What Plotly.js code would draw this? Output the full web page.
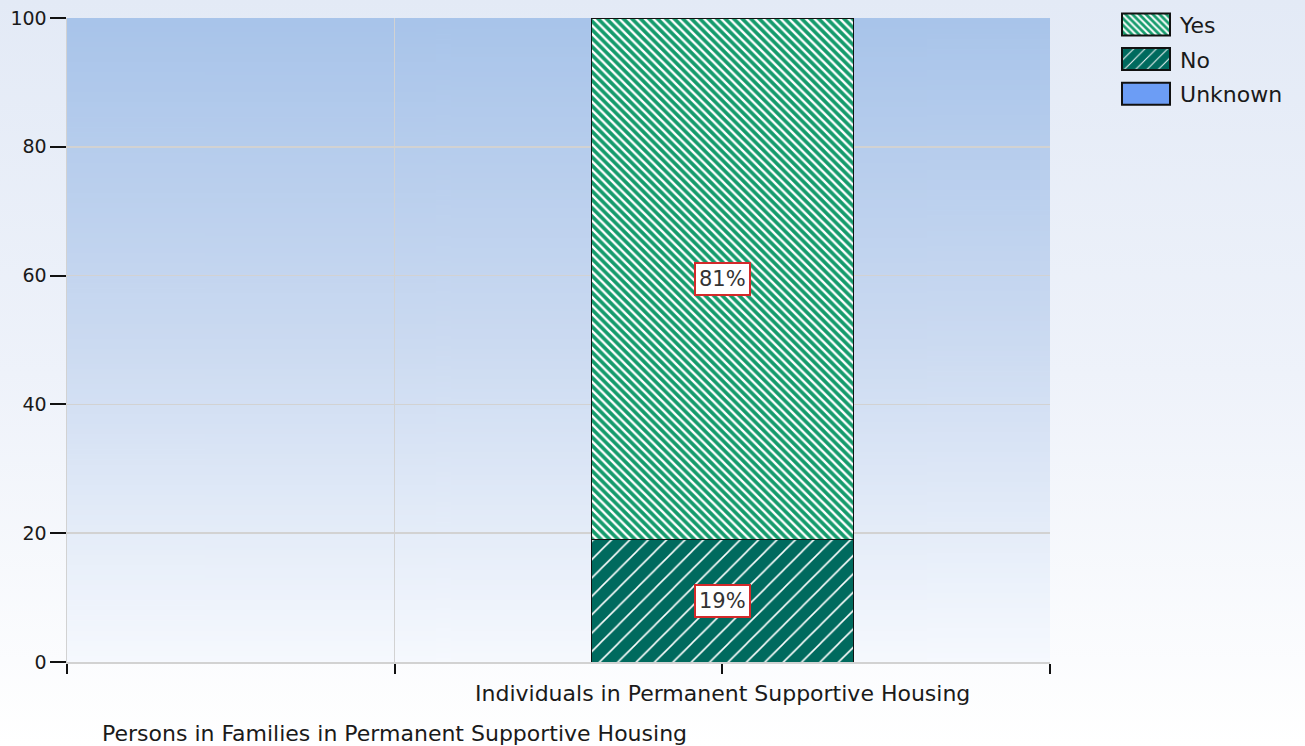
<!DOCTYPE html>
<html>
<head>
<meta charset="utf-8">
<script src="https://cdn.plot.ly/plotly-3.0.1.min.js"></script>
<style>
  html, body { margin:0; padding:0; }
  #chart { width:1305px; height:746px;
    background: linear-gradient(to bottom, #e3eaf6 0%, #eef2fa 50%, #ffffff 100%); }
</style>
</head>
<body>
<div id="chart"></div>
<script>
// ---- data ----
var categories = ["Persons in Families in Permanent Supportive Housing", "Individuals in Permanent Supportive Housing"];
var categoryPos = [1, 2];
var noValues = [0, 19];
var yesValues = [0, 81];
var unknownValues = [0, 0];
var yTicks = [0, 20, 40, 60, 80, 100];

// ---- plot-area gradient image ----
var cv = document.createElement('canvas');
cv.width = 4; cv.height = 256;
var ctx = cv.getContext('2d');
var g = ctx.createLinearGradient(0, 0, 0, 256);
g.addColorStop(0, '#a8c4ea');
g.addColorStop(0.5, '#cbdaf1');
g.addColorStop(1, '#f6f9fe');
ctx.fillStyle = g; ctx.fillRect(0, 0, 4, 256);
var gradURL = cv.toDataURL();

var font = 'DejaVu Sans, Verdana, sans-serif';
var lineBlack = {color: '#111', width: 1};

var traces = [
  {type: 'bar', name: 'No', x: categoryPos, y: noValues, width: 0.8, legendrank: 2, legendgroup: 'no',
   marker: {color: '#006a5e', line: lineBlack,
            pattern: {shape: '/', bgcolor: '#006a5e', fgcolor: '#ffffff', size: 13, solidity: 0.12, fillmode: 'replace'}},
   hoverinfo: 'skip'},
  {type: 'bar', name: 'Yes', x: categoryPos, y: yesValues, width: 0.8, legendrank: 1, legendgroup: 'yes',
   marker: {color: '#159b6c', line: lineBlack,
            pattern: {shape: '\\', bgcolor: '#159b6c', fgcolor: '#ffffff', size: 6, solidity: 0.4, fillmode: 'replace'}},
   hoverinfo: 'skip'},
  {type: 'bar', name: 'Unknown', x: categoryPos, y: unknownValues, width: 0.8, legendrank: 3, legendgroup: 'unk',
   marker: {color: '#6c9df5', line: lineBlack}, hoverinfo: 'skip'}
];

var annotations = [];
// data labels
for (var i = 0; i < categoryPos.length; i++) {
  var base = 0;
  [noValues, yesValues].forEach(function (arr) {
    var v = arr[i];
    if (v > 0) {
      annotations.push({x: categoryPos[i], y: base + v / 2, xref: 'x', yref: 'y',
        text: v + '%', showarrow: false, bgcolor: '#ffffff', bordercolor: '#d42a2a',
        borderwidth: 2, borderpad: 3, font: {family: font, size: 21, color: '#333'}});
    }
    base += v;
  });
}
// category labels (staggered)
var shifts = [-71, -31];
categories.forEach(function (c, i) {
  annotations.push({x: categoryPos[i], y: 0, xref: 'x', yref: 'paper', yanchor: 'middle',
    yshift: shifts[i], text: c, showarrow: false,
    font: {family: font, size: 22, color: '#1a1a1a'}});
});

var layout = {
  width: 1305, height: 746,
  margin: {l: 67, r: 255, t: 18, b: 84, autoexpand: false},
  paper_bgcolor: 'rgba(0,0,0,0)',
  plot_bgcolor: 'rgba(0,0,0,0)',
  barmode: 'stack',
  font: {family: font, size: 19, color: '#1a1a1a'},
  images: [{source: gradURL, xref: 'paper', yref: 'paper', x: 0, y: 1, sizex: 1, sizey: 1,
            sizing: 'stretch', xanchor: 'left', yanchor: 'top', layer: 'below'}],
  xaxis: {range: [0, 3], tickvals: [0, 1, 2, 3], ticktext: ['', '', '', ''], automargin: false,
          showgrid: true, gridcolor: '#d2d2d2', gridwidth: 1.5,
          ticks: 'outside', ticklen: 10, tickcolor: '#111', tickwidth: 2,
          showline: true, linecolor: '#d2d2d2', linewidth: 1.5, zeroline: false, fixedrange: true},
  yaxis: {range: [0, 100], tickvals: yTicks, automargin: false,
          showgrid: true, gridcolor: '#d2d2d2', gridwidth: 1.5,
          ticks: 'outside', ticklen: 16, tickcolor: '#111', tickwidth: 2, ticklabelstandoff: -1,
          showline: true, linecolor: '#d2d2d2', linewidth: 1.5, zeroline: false,
          tickfont: {family: font, size: 19, color: '#1a1a1a'}, fixedrange: true},
  showlegend: true,
  legend: {x: 1.0631, y: 1.0222, xanchor: 'left', yanchor: 'top', bgcolor: 'rgba(0,0,0,0)',
           font: {family: font, size: 22, color: '#1a1a1a'}, itemwidth: 58,
           traceorder: 'grouped', tracegroupgap: 3},
  annotations: annotations
};

Plotly.newPlot('chart', traces, layout, {displayModeBar: false, staticPlot: true}).then(function (gd) {
  // enlarge legend swatches to the reference's wide boxes
  gd.querySelectorAll('.legend .legendpoints path').forEach(function (p) {
    p.setAttribute('d', 'M24,11H-24V-11H24Z');
    p.style.strokeWidth = '2px';
    p.style.stroke = '#111';
  });
});
</script>
</body>
</html>
